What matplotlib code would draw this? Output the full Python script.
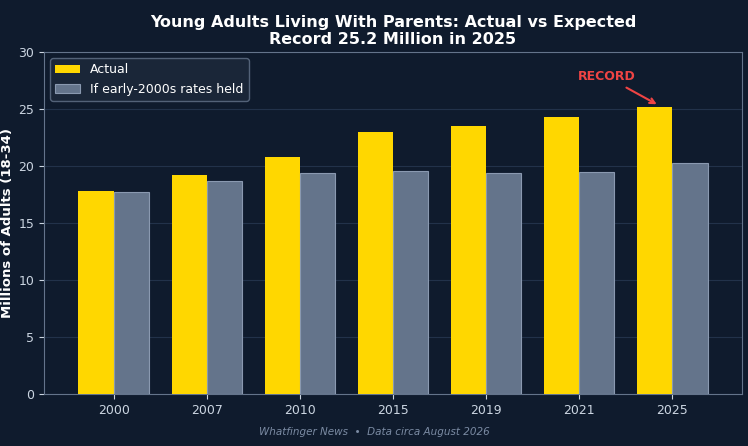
import numpy as np
import matplotlib.pyplot as plt

years = ["2000", "2007", "2010", "2015", "2019", "2021", "2025"]
actual = [17.8, 19.2, 20.8, 23.0, 23.5, 24.3, 25.2]
expected = [17.7, 18.7, 19.4, 19.6, 19.4, 19.5, 20.3]

bg = "#0f1b2d"
fig = plt.figure(figsize=(7.48, 4.46), dpi=100, facecolor=bg)
ax = fig.add_axes([44 / 748, 52 / 446, 698 / 748, 342 / 446], facecolor=bg)

x = np.arange(len(years))
w = 0.38
ax.bar(x - w / 2, actual, w, color="#ffd700", label="Actual", zorder=3)
ax.bar(x + w / 2, expected, w, color="#64748b", edgecolor="#8a99b0", linewidth=0.8,
       label="If early-2000s rates held", zorder=3)

ax.set_xticks(x)
ax.set_xticklabels(years)
ax.set_ylim(0, 30)
ax.set_xlim(-0.75, 6.75)
ax.set_yticks(range(0, 31, 5))
ax.grid(axis="y", color="#22324a", linewidth=0.8, zorder=0)
ax.tick_params(colors="#cbd5e1", labelsize=9)
for s in ax.spines.values():
    s.set_color("#64748b")
ax.set_ylabel("Millions of Adults (18-34)", color="white", fontsize=9.5,
              fontweight="bold", labelpad=3)

ax.set_title("Young Adults Living With Parents: Actual vs Expected\nRecord 25.2 Million in 2025",
             color="white", fontsize=11.5, fontweight="bold", pad=6, linespacing=1.1)

ax.annotate("RECORD", xy=(x[-1] - w / 2 + 0.05, actual[-1] + 0.1), xytext=(5.3, 27.5),
            color="#ef4444", fontsize=9, fontweight="bold", ha="center",
            arrowprops=dict(arrowstyle="->", color="#ef4444", lw=1.5))

leg = ax.legend(loc="upper left", fontsize=9, facecolor="#1e293b", edgecolor="#64748b",
                labelcolor="white")

fig.text(0.5, 0.025, "Whatfinger News  \u2022  Data circa August 2026", color="#7b8ba3",
         fontsize=7.5, style="italic", ha="center")

fig.savefig("out.png", facecolor=bg)
